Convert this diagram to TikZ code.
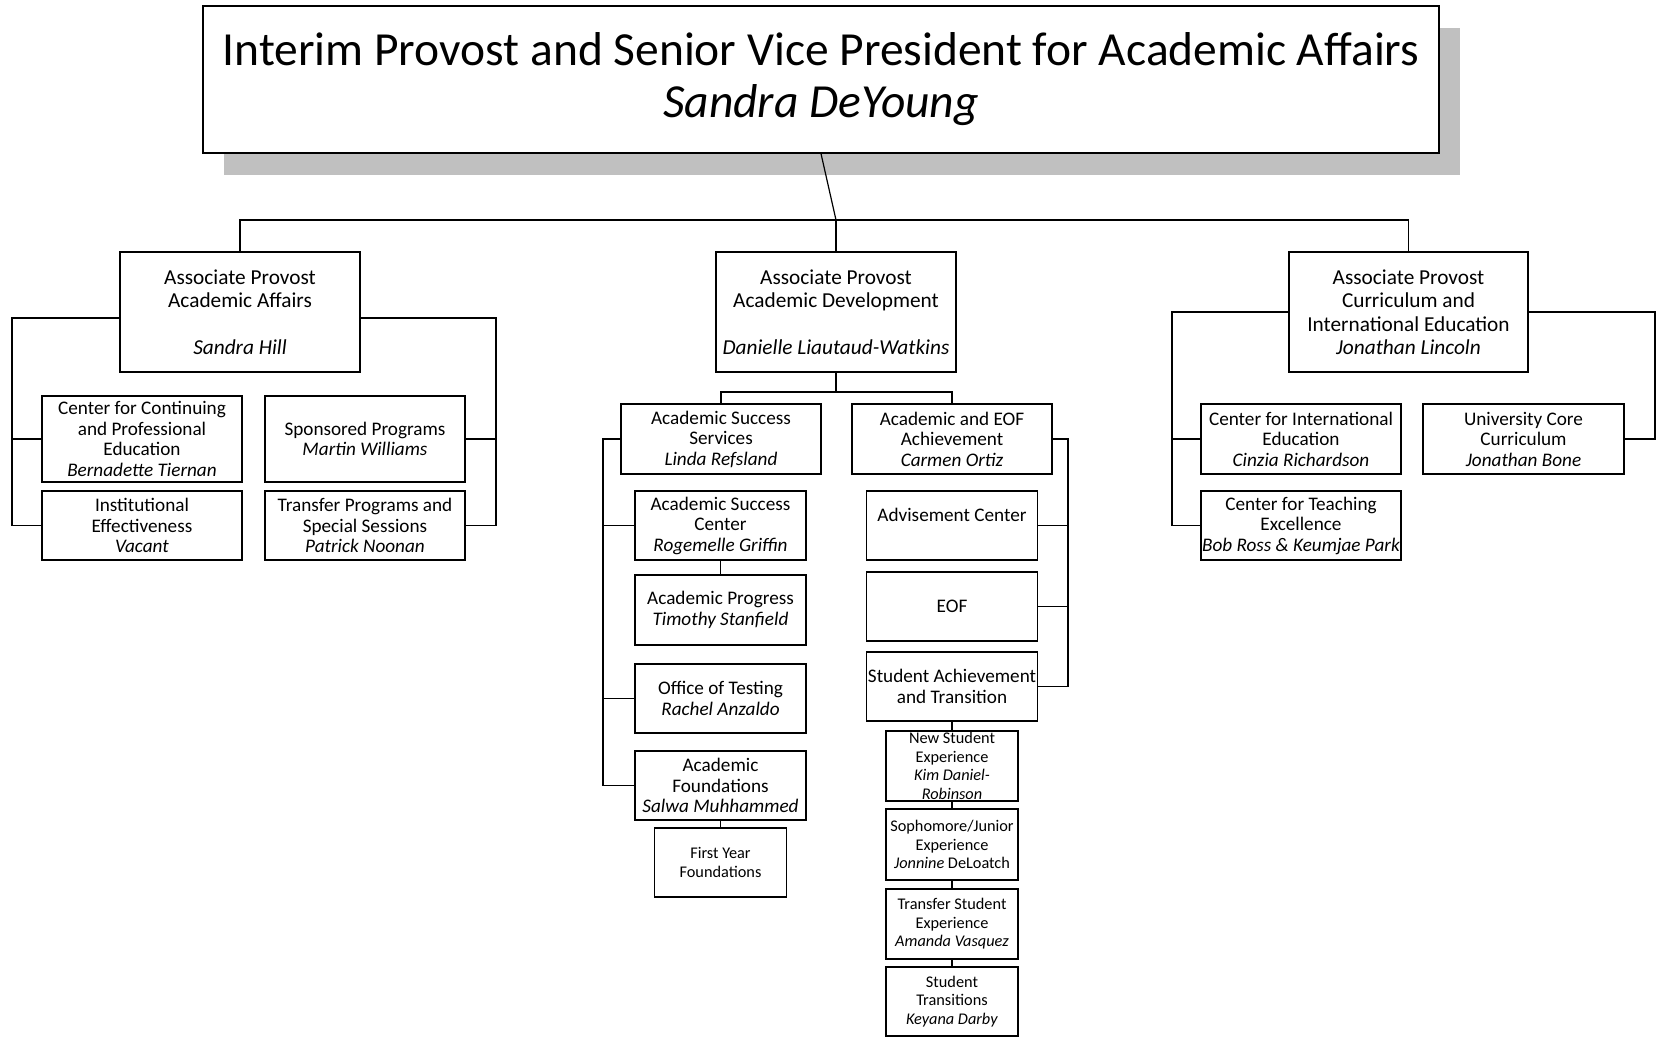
\documentclass[tikz,border=0pt]{standalone}
\usepackage{fontspec}
\setmainfont{Carlito}
\usepackage{tikz}
\usetikzlibrary{shadows}
\definecolor{ShadowGray}{HTML}{C0C0C0}

\tikzset{
  unitbox/.style={draw,line width=1.3pt,fill=white,inner sep=0pt,align=center},
  boxsize/.style 2 args={minimum width=#1,minimum height=#2},
  titletext/.style={font=\fontsize{47.5}{52}\selectfont},
  aptext/.style={font=\fontsize{21.3}{23.5}\selectfont},
  midtext/.style={font=\fontsize{19.2}{20.5}\selectfont},
  smalltext/.style={font=\fontsize{16.3}{18.5}\selectfont},
  link/.style={line width=1.2pt},
}

\begin{document}
\begin{tikzpicture}[x=1pt,y=-1pt]
\path[use as bounding box] (0,0) rectangle (1656,1037);
% top of the chart
\node[unitbox,titletext,boxsize={1236}{147},
  drop shadow={shadow xshift=21pt,shadow yshift=-22pt,fill=ShadowGray,opacity=1}]
  (provost) at (821,79.5) {Interim Provost and Senior Vice President for Academic Affairs\\\textit{Sandra DeYoung}};
\node[unitbox,aptext,boxsize={240}{120}] (apaa) at (240,312) {Associate Provost\\Academic Affairs\\~\\\textit{Sandra Hill}};
\node[unitbox,aptext,boxsize={240}{120}] (apad) at (836,312) {Associate Provost\\Academic Development\\~\\\textit{Danielle Liautaud-Watkins}};
\node[unitbox,aptext,boxsize={239}{120}] (apci) at (1408.5,312) {Associate Provost\\Curriculum and\\International Education\\\textit{Jonathan Lincoln}};
\coordinate (hub) at (836,220);
\draw[link] (provost.south) -- (hub);
\draw[link] (apaa.north) |- (hub) -| (apci.north);
\draw[link] (hub) -- (apad.north);
% academic affairs
\node[unitbox,midtext,boxsize={200}{86}] (ccpe) at (142,439) {Center for Continuing\\and Professional\\Education\\\textit{Bernadette Tiernan}};
\node[unitbox,midtext,boxsize={200}{69}] (inst) at (142,525.5) {Institutional\\Effectiveness\\\textit{Vacant}};
\node[unitbox,midtext,boxsize={200}{86}] (spon) at (365,439) {Sponsored Programs\\\textit{Martin Williams}};
\node[unitbox,midtext,boxsize={200}{69}] (trans) at (365,525.5) {Transfer Programs and\\Special Sessions\\\textit{Patrick Noonan}};
\coordinate (aaspL) at (12,525.5);
\coordinate (aaspR) at (496,525.5);
\draw[link] ([yshift=-6pt]apaa.west) -| (aaspL) -- (inst.west);
\draw[link] (ccpe.west) -- (ccpe.west -| aaspL);
\draw[link] ([yshift=-6pt]apaa.east) -| (aaspR) -- (trans.east);
\draw[link] (spon.east) -- (spon.east -| aaspR);
% academic development
\node[unitbox,midtext,boxsize={200}{70}] (ass) at (721,439) {Academic Success\\Services\\\textit{Linda Refsland}};
\node[unitbox,midtext,boxsize={200}{70}] (aeof) at (952,439) {Academic and EOF\\Achievement\\\textit{Carmen Ortiz}};
\node[unitbox,midtext,boxsize={171}{69}] (asc) at (720.5,525.5) {Academic Success\\Center\\\textit{Rogemelle Griffin}};
\node[unitbox,midtext,boxsize={171}{70}] (aprog) at (720.5,610) {Academic Progress\\\textit{Timothy Stanfield}};
\node[unitbox,midtext,boxsize={171}{69}] (oot) at (720.5,698.5) {Office of Testing\\\textit{Rachel Anzaldo}};
\node[unitbox,midtext,boxsize={171}{69}] (af) at (720.5,785.5) {Academic\\Foundations\\\textit{Salwa Muhhammed}};
\node[unitbox,smalltext,boxsize={132}{69}] (fyf) at (720.5,862.5) {First Year\\Foundations};
\node[unitbox,midtext,boxsize={171}{69}] (adv) at (952,525.5) {Advisement Center\\~};
\node[unitbox,midtext,boxsize={171}{69}] (eof) at (952,606.5) {EOF};
\node[unitbox,midtext,boxsize={171}{69}] (sat) at (952,686.5) {Student Achievement\\and Transition};
\node[unitbox,smalltext,boxsize={132}{70}] (nse) at (952,766) {New Student\\Experience\\\textit{Kim Daniel-}\\\textit{Robinson}};
\node[unitbox,smalltext,boxsize={132}{71}] (soph) at (952,844.5) {Sophomore/Junior\\Experience\\\textit{Jonnine} DeLoatch};
\node[unitbox,smalltext,boxsize={132}{70}] (tse) at (952,924) {Transfer Student\\Experience\\\textit{Amanda Vasquez}};
\node[unitbox,smalltext,boxsize={132}{69}] (stt) at (952,1001.5) {Student\\Transitions\\\textit{Keyana Darby}};
\coordinate (adhub) at (836,392);
\draw[link] (apad.south) -- (adhub);
\draw[link] (ass.north) |- (adhub) -| (aeof.north);
\coordinate (assp) at (603,785.5);
\draw[link] (ass.west) -| (assp) -- (af.west);
\draw[link] (asc.west) -- (asc.west -| assp);
\draw[link] (oot.west) -- (oot.west -| assp);
\draw[link] (asc.south) -- (aprog.north);
\draw[link] (af.south) -- (fyf.north);
\coordinate (eofsp) at (1068,686.5);
\draw[link] (aeof.east) -| (eofsp) -- (sat.east);
\draw[link] (adv.east) -- (adv.east -| eofsp);
\draw[link] (eof.east) -- (eof.east -| eofsp);
\draw[link] (sat.south) -- (nse.north);
\draw[link] (nse.south) -- (soph.north);
\draw[link] (soph.south) -- (tse.north);
\draw[link] (tse.south) -- (stt.north);
% curriculum and international education
\node[unitbox,midtext,boxsize={200}{70}] (cie) at (1301,439) {Center for International\\Education\\\textit{Cinzia Richardson}};
\node[unitbox,midtext,boxsize={201}{70}] (ucc) at (1523.5,439) {University Core\\Curriculum\\\textit{Jonathan Bone}};
\node[unitbox,midtext,boxsize={200}{69}] (cte) at (1301,525.5) {Center for Teaching\\Excellence\\\textit{Bob Ross \& Keumjae Park}};
\coordinate (ciL) at (1172,525.5);
\coordinate (ciR) at (1655,439);
\draw[link] (apci.west) -| (ciL) -- (cte.west);
\draw[link] (cie.west) -- (cie.west -| ciL);
\draw[link] (apci.east) -| (ciR) -- (ucc.east);
\end{tikzpicture}
\end{document}
